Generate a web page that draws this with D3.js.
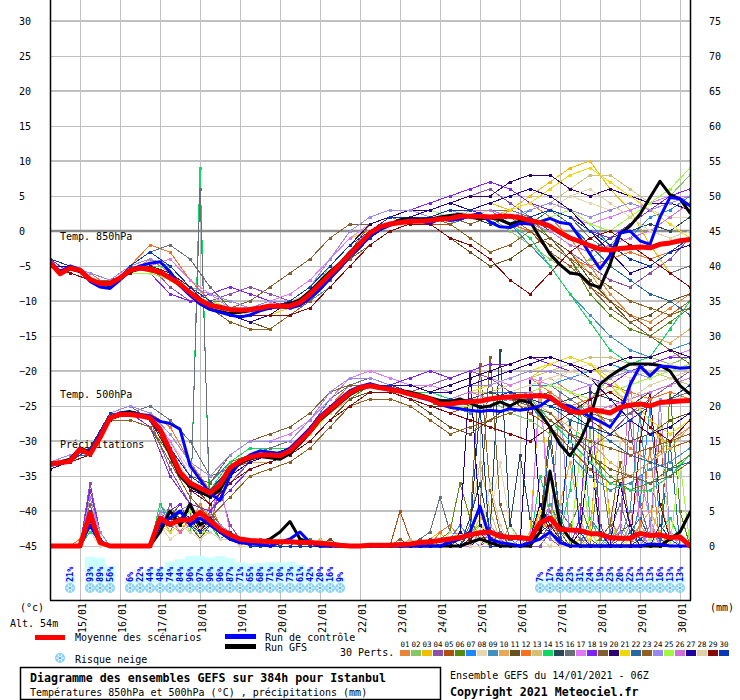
<!DOCTYPE html>
<html>
<head>
<meta charset="utf-8">
<script src="https://cdn.jsdelivr.net/npm/d3@7"></script>
<style>
  body { margin: 0; background: #fff; }
  svg { display: block; }
  text { font-family: "DejaVu Sans Mono", monospace; }
</style>
</head>
<body>
<svg id="chart" width="740" height="700"></svg>
<script>
// run 14/01/2021 06Z, 384h
var runStart = Date.UTC(2021, 0, 14, 6);
var runHours = 384;

// 6-hourly series (65 values)
var meanT850 = [-4.5,-6.1,-5.3,-5.6,-6.9,-7.5,-7.5,-6.7,-5.6,-5.3,
  -5.5,-5.9,-6.7,-7.6,-8.8,-9.9,-10.6,-10.9,-11.2,-11.3,
  -11.2,-11.0,-10.7,-10.7,-10.7,-10.2,-9.0,-7.6,-6.2,-4.8,
  -3.3,-1.8,-0.3,0.6,1.0,1.2,1.4,1.4,1.5,1.7,
  1.8,2.1,2.1,2.1,2.0,2.1,2.1,1.9,1.5,1.2,
  0.7,-0.2,-1.0,-1.5,-2.1,-2.6,-2.7,-2.5,-2.4,-2.3,
  -2.4,-1.9,-1.7,-1.4,-1.2];
var ctrlT850 = [-4.3,-5.8,-5.0,-5.5,-7.2,-8.0,-8.2,-7.0,-5.6,-5.0,
  -4.6,-4.4,-5.8,-7.8,-9.2,-10.4,-11.2,-11.6,-12.0,-12.3,
  -12.0,-11.4,-11.0,-10.8,-11.0,-10.6,-9.6,-8.3,-6.8,-5.2,
  -3.6,-2.2,-0.8,0.2,0.8,1.3,1.6,1.4,1.1,1.8,
  1.5,1.7,2.2,2.5,1.3,0.6,0.5,1.1,1.0,1.3,
  1.8,1.2,1.0,-1.0,-3.3,-5.4,-3.5,-0.3,0.0,-1.4,
  -1.9,2.0,4.8,4.6,3.6];
var gfsT850 = [-4.6,-6.0,-5.4,-5.8,-7.0,-7.6,-7.8,-6.9,-5.8,-5.4,
  -5.6,-6.0,-6.5,-7.8,-9.0,-10.4,-11.2,-11.5,-11.8,-11.6,
  -11.4,-11.0,-10.9,-10.6,-10.4,-9.8,-8.6,-7.2,-5.8,-4.6,
  -3.0,-1.6,-0.4,0.4,1.0,1.6,1.8,1.6,1.7,2.0,
  2.2,2.4,2.0,1.7,1.9,1.6,1.0,1.4,1.4,-1.0,
  -3.3,-4.8,-6.0,-6.2,-7.6,-8.1,-4.8,-0.4,0.7,2.4,
  4.8,7.1,5.2,4.6,2.6];

var meanT500 = [-33.3,-33.1,-32.9,-31.2,-31.9,-29.5,-26.7,-26.2,-26.2,-26.4,
  -26.7,-28.3,-31.4,-34.5,-36.0,-36.7,-37.4,-36.2,-33.8,-32.9,
  -32.3,-32.0,-32.0,-32.1,-31.4,-30.0,-28.6,-26.7,-25.5,-24.3,
  -23.1,-22.4,-22.1,-22.4,-22.6,-22.9,-23.3,-23.6,-24.0,-24.7,
  -24.7,-24.5,-24.4,-24.3,-24.0,-23.8,-23.7,-23.6,-23.6,-23.5,
  -23.7,-24.8,-25.7,-26.0,-25.5,-25.7,-26.0,-25.2,-24.9,-24.7,
  -25.0,-24.5,-24.4,-24.3,-24.2];
var ctrlT500 = [-33.5,-33.2,-32.8,-31.4,-31.6,-29.0,-26.6,-26.0,-26.0,-26.2,
  -26.4,-27.2,-27.5,-28.3,-33.5,-35.5,-37.5,-38.5,-35.0,-33.0,
  -32.0,-31.4,-31.6,-31.8,-31.0,-29.6,-28.2,-26.4,-25.2,-24.0,
  -22.8,-22.2,-21.8,-22.2,-22.4,-22.9,-23.4,-23.8,-24.2,-24.8,
  -25.2,-25.4,-25.6,-25.8,-25.6,-25.8,-25.4,-25.6,-25.4,-25.0,
  -24.0,-24.8,-25.0,-25.8,-26.5,-27.2,-28.0,-26.0,-22.0,-19.3,
  -20.7,-19.3,-19.4,-19.6,-19.5];
var gfsT500 = [-33.2,-33.0,-32.6,-31.0,-31.6,-29.2,-26.8,-26.0,-25.8,-26.2,
  -26.8,-28.6,-32.0,-35.0,-36.5,-37.2,-38.0,-37.0,-34.5,-33.2,
  -32.6,-32.2,-32.4,-32.6,-31.8,-30.4,-28.8,-27.0,-25.8,-24.6,
  -23.4,-22.6,-22.2,-22.2,-22.5,-22.8,-23.0,-23.4,-23.8,-24.2,
  -24.4,-24.0,-24.6,-25.2,-25.0,-24.4,-25.0,-24.2,-24.5,-26.0,
  -28.0,-30.5,-32.1,-30.0,-26.7,-21.9,-20.7,-19.8,-19.0,-19.0,
  -19.0,-19.2,-20.0,-22.1,-23.3];

var meanPrecip = [0,0,0,0,4.6,0.5,0,0,0,0,
  0,4.0,3.1,3.7,3.7,4.8,3.6,2.4,1.6,1.0,
  0.8,0.7,0.6,0.6,0.6,0.5,0.5,0.4,0.3,0.1,
  0,0,0.1,0.1,0.1,0.2,0.3,0.5,0.6,0.8,
  1.0,1.2,1.6,1.9,2.0,1.4,1.2,1.2,1.0,3.3,
  4.0,2.4,2.3,2.2,1.8,1.7,1.2,1.1,1.1,1.8,
  1.5,1.6,1.2,1.3,0];
var ctrlPrecip = [0,0,0,0,3,0.5,0,0,0,0,0,
  3,4,5,3,4,3,2,
  1,0.5,0.3,0.2,0,0.5,1,2,0.5,0,0,0,0,0,0,0,0,
  0,0,0,0,0,0.5,1,2,5.7,1,0.5,0.3,0,0.5,1,2,0.5,0,0,0,0,0,0,0,0,0.3,0.2,0,0,0];
var gfsPrecip = [0,0,0,0,4,0.5,0,0,0,0,0,
  2,5,3,6,3,4,2,
  1,0.5,0.5,0.5,1,2,3.5,1,0.5,0,0,0,0,0,0,0,0,
  0,0,0,0,0,0,0,0.5,1,0.5,0,0,0,0,2,10.7,3,1,0,0,0,0,0,0,0,0,0,1,2,4.8];

// 30 perturbations: temperatures every 12h (33 values), precipitation every 6h (65 values)
var memberColors = ["#e8833a","#88c468","#f0c000","#8c50a8","#b05010","#588a10","#1e88ff","#e8d8b0","#4090c0","#e8a858",
  "#685020","#f87020","#d0c078","#10d860","#284858","#687078","#e078f8","#8020f8","#806030","#300070",
  "#f0d800","#2868a0","#906020","#9888f0","#a0f840","#d070d8","#2000a0","#e0d0a8","#880808","#0838b8"];

var memberT850 = [
  [-4,-5,-7,-8,-6,-4,-6,-9,-11,-12,-12, -11,-11,-10,-7,-3,0,1,2,2,3,2, 1,3,4,2,-1,-5,-9,-12,-13,-11,-9],
  [-5,-5,-7,-7,-5,-5,-7,-9,-10,-11,-12, -12,-11,-9,-5,-2,1,2,1,2,1,3, 2,0,-2,-4,-6,-4,-2,1,3,5,8],
  [-4,-6,-7,-8,-6,-6,-7,-9,-11,-12,-13, -12,-10,-8,-4,-1,0,2,2,1,2,3, 4,3,5,7,9,10,6,3,-2,-6,-8],
  [-5,-5,-6,-7,-5,-5,-8,-10,-10,-9,-8, -9,-10,-9,-6,-3,0,1,2,3,4,5, 6,4,2,-1,-3,-5,-7,-8,-6,-4,-1],
  [-4,-5,-7,-8,-6,-5,-6,-8,-11,-12,-13, -12,-11,-9,-6,-3,1,2,2,1,1,2, 3,2,0,-3,-5,-8,-10,-12,-14,-12,-10],
  [-5,-6,-7,-7,-6,-6,-7,-9,-10,-10,-11, -11,-10,-8,-5,-2,0,1,2,3,2,1, 2,3,2,-1,-4,-9,-12,-14,-15,-13,-11],
  [-4,-5,-7,-8,-6,-5,-6,-9,-11,-12,-12, -11,-10,-9,-7,-4,-1,1,2,2,3,3, 2,1,3,4,3,1,-2,-1,2,3,5],
  [-5,-5,-6,-7,-5,-5,-6,-8,-10,-11,-11, -10,-10,-9,-6,-3,0,1,2,1,2,3, 2,2,1,3,5,4,3,4,3,2,2],
  [-4,-6,-7,-8,-6,-6,-7,-9,-11,-12,-12, -11,-11,-10,-8,-5,-2,0,1,2,1,2, 3,1,-2,-5,-9,-12,-15,-17,-18,-17,-16],
  [-5,-5,-7,-8,-6,-6,-7,-9,-10,-11,-12, -11,-11,-9,-6,-3,0,2,2,2,3,2, 1,2,1,-1,-3,-6,-10,-13,-15,-16,-14],
  [-4,-5,-7,-7,-5,-5,-7,-9,-11,-12,-13, -14,-12,-10,-7,-4,-1,1,2,1,-1,-3, -5,-4,-2,-1,-3,-7,-10,-13,-12,-10,-9],
  [-4,-5,-6,-8,-5,-2,-3,-7,-10,-12,-12, -11,-10,-9,-6,-3,0,1,1,2,2,2, 2,1,0,-2,-4,-5,-4,-3,-4,-3,-2],
  [-5,-5,-7,-8,-6,-5,-6,-8,-10,-11,-11, -10,-10,-9,-7,-4,-1,1,1,2,2,3, 2,2,3,4,6,8,8,6,4,5,6],
  [-4,-6,-7,-8,-6,-5,-5,-8,-9,-11,-12, -11,-10,-8,-5,-2,0,2,2,3,4,3, 2,1,-1,-5,-9,-13,-17,-19,-18,-14,-10],
  [-5,-5,-7,-7,-6,-5,-6,-9,-11,-12,-12, -12,-11,-10,-7,-4,-1,1,2,2,3,2, 1,2,2,0,-2,-3,-1,0,1,0,2],
  [-4,-5,-7,-8,-5,-3,-2,-4,-8,-11,-12, -11,-10,-9,-6,-3,0,1,2,2,1,2, 3,3,2,3,2,-1,-3,-2,-4,-6,-5],
  [-5,-5,-6,-7,-5,-5,-4,-7,-9,-11,-11, -10,-9,-7,-4,-1,1,2,3,3,2,3, 2,3,4,3,2,1,2,3,4,5,5],
  [-4,-6,-7,-8,-6,-6,-9,-10,-9,-8,-9, -10,-11,-9,-6,-3,0,2,3,4,5,6, 7,6,4,3,2,0,-1,1,3,5,6],
  [-5,-5,-7,-8,-6,-5,-6,-8,-10,-11,-10, -8,-6,-4,-1,1,1,2,1,2,2,1, 2,2,1,-1,-4,-8,-11,-13,-15,-17,-19],
  [-4,-5,-7,-8,-6,-5,-6,-9,-11,-12,-12, -11,-10,-8,-5,-2,1,2,3,3,4,5, 5,7,8,8,6,5,6,5,4,4,3],
  [-5,-6,-7,-8,-6,-6,-7,-9,-11,-11,-12, -12,-11,-9,-6,-3,0,1,2,2,3,3, 2,3,4,6,8,9,7,5,3,1,-1],
  [-4,-5,-7,-8,-5,-5,-6,-8,-10,-11,-11, -10,-10,-8,-5,-2,0,2,2,3,2,3, 2,2,1,3,1,-2,-5,-7,-9,-10,-12],
  [-5,-5,-7,-7,-5,-5,-7,-9,-11,-13,-14, -14,-12,-10,-7,-4,-2,0,1,2,1,-1, -3,-2,0,-2,-4,-6,-8,-10,-11,-12,-11],
  [-4,-5,-6,-7,-5,-4,-5,-8,-9,-10,-11, -10,-10,-8,-4,0,2,3,3,2,3,2, 3,2,3,4,3,2,3,4,3,4,5],
  [-5,-6,-7,-8,-6,-6,-7,-9,-10,-11,-12, -11,-10,-9,-6,-3,0,1,2,3,2,2, 3,2,1,2,3,1,0,2,4,6,9],
  [-4,-5,-7,-8,-6,-5,-6,-9,-11,-12,-12, -11,-11,-9,-6,-3,0,1,2,2,2,3, 3,2,1,0,-2,-3,-2,-1,0,2,4],
  [-5,-5,-7,-8,-6,-5,-6,-8,-10,-12,-13, -12,-10,-8,-5,-2,0,2,2,3,4,3, 4,5,6,5,3,0,-3,-6,-5,-3,-2],
  [-4,-5,-7,-8,-6,-5,-6,-9,-11,-11,-12, -11,-10,-9,-6,-3,0,1,2,2,2,3, 2,1,2,3,5,6,4,2,0,-1,0],
  [-5,-6,-7,-8,-6,-5,-6,-8,-11,-12,-12, -12,-12,-11,-8,-5,-2,0,1,1,-1,-2, -4,-7,-9,-6,-3,-1,0,-2,-4,-6,-8],
  [-4,-5,-7,-8,-5,-3,-5,-8,-10,-12,-12, -11,-10,-8,-5,-2,0,2,2,2,3,3, 2,1,2,3,2,0,-2,-4,-5,-3,-1]
];

var memberT500 = [
  [-33,-33,-32,-27,-26,-27,-31,-36,-38,-34,-32, -32,-31,-28,-25,-23,-22,-23,-23,-24,-25,-24, -24,-23,-22,-21,-23,-25,-28,-31,-33,-30,-28],
  [-33,-33,-31,-26,-26,-26,-30,-35,-37,-33,-32, -31,-31,-29,-26,-23,-22,-22,-23,-24,-24,-25, -24,-26,-27,-29,-27,-24,-21,-19,-18,-19,-18],
  [-34,-33,-32,-27,-26,-27,-32,-37,-38,-35,-33, -32,-31,-28,-25,-23,-22,-23,-24,-24,-25,-24, -23,-22,-21,-19,-18,-19,-22,-25,-28,-31,-30],
  [-33,-32,-31,-26,-25,-27,-34,-39,-40,-36,-33, -32,-32,-29,-26,-23,-22,-22,-23,-22,-21,-20, -21,-23,-25,-27,-29,-31,-29,-26,-24,-22,-20],
  [-33,-33,-32,-27,-26,-27,-31,-36,-38,-34,-33, -32,-31,-28,-25,-23,-22,-23,-24,-25,-26,-25, -24,-24,-26,-28,-31,-34,-36,-35,-33,-31,-30],
  [-34,-33,-32,-27,-27,-28,-32,-36,-37,-33,-32, -32,-32,-29,-26,-24,-22,-23,-24,-25,-24,-23, -24,-25,-24,-26,-29,-32,-35,-37,-36,-34,-32],
  [-33,-33,-31,-26,-26,-27,-31,-35,-36,-33,-31, -31,-31,-28,-24,-22,-21,-22,-23,-24,-24,-24, -23,-23,-22,-22,-21,-20,-19,-20,-21,-20,-19],
  [-33,-32,-32,-27,-26,-26,-30,-34,-37,-34,-32, -32,-31,-29,-26,-23,-22,-22,-23,-23,-24,-24, -25,-24,-23,-22,-20,-19,-20,-21,-20,-19,-20],
  [-34,-33,-32,-27,-26,-27,-31,-36,-38,-35,-33, -32,-31,-28,-25,-23,-22,-22,-23,-24,-25,-26, -25,-24,-25,-28,-32,-35,-37,-36,-34,-33,-31],
  [-33,-33,-32,-27,-26,-27,-32,-37,-38,-35,-33, -33,-32,-29,-26,-24,-23,-23,-24,-24,-25,-24, -24,-23,-24,-26,-28,-30,-33,-35,-33,-31,-28],
  [-33,-33,-32,-27,-26,-27,-31,-36,-39,-36,-34, -33,-32,-30,-27,-24,-23,-23,-24,-26,-28,-29, -27,-25,-24,-23,-25,-27,-29,-30,-29,-27,-26],
  [-33,-32,-31,-26,-25,-26,-28,-33,-37,-35,-33, -32,-31,-28,-25,-22,-22,-22,-23,-23,-24,-24, -23,-22,-21,-23,-25,-24,-22,-23,-24,-23,-24],
  [-34,-33,-32,-27,-26,-27,-31,-36,-37,-34,-32, -32,-31,-28,-25,-23,-22,-23,-23,-24,-24,-23, -23,-22,-21,-20,-19,-18,-18,-19,-20,-21,-22],
  [-33,-33,-31,-27,-26,-27,-31,-35,-37,-33,-31, -31,-31,-28,-25,-23,-22,-22,-23,-23,-24,-24, -24,-23,-24,-27,-30,-33,-36,-37,-37,-35,-32],
  [-33,-33,-32,-27,-26,-27,-31,-36,-38,-34,-32, -32,-31,-28,-25,-23,-22,-23,-24,-25,-25,-24, -23,-24,-24,-25,-24,-23,-24,-25,-23,-22,-21],
  [-34,-33,-32,-27,-26,-25,-27,-30,-35,-34,-32, -31,-30,-27,-24,-22,-21,-22,-23,-24,-25,-25, -24,-23,-23,-22,-24,-26,-27,-26,-25,-24,-23],
  [-33,-32,-31,-26,-25,-26,-30,-35,-36,-32,-30, -30,-29,-27,-24,-21,-20,-21,-22,-22,-23,-22, -21,-22,-21,-22,-23,-22,-21,-20,-19,-18,-17],
  [-33,-33,-32,-27,-26,-28,-35,-39,-40,-37,-34, -33,-32,-29,-26,-23,-22,-22,-21,-20,-21,-20, -19,-19,-18,-19,-20,-21,-22,-20,-19,-18,-18],
  [-33,-33,-32,-27,-26,-27,-31,-35,-36,-32,-30, -29,-28,-26,-23,-22,-22,-22,-23,-24,-24,-25, -24,-24,-25,-26,-29,-32,-34,-35,-36,-35,-33],
  [-34,-33,-32,-27,-26,-27,-31,-36,-38,-34,-32, -32,-31,-28,-25,-23,-22,-22,-22,-23,-22,-21, -20,-19,-18,-18,-19,-20,-19,-18,-18,-17,-18],
  [-33,-33,-32,-27,-26,-27,-32,-37,-38,-35,-33, -32,-31,-28,-25,-23,-22,-23,-23,-24,-24,-23, -22,-21,-20,-19,-18,-19,-21,-24,-27,-29,-27],
  [-33,-32,-32,-27,-26,-27,-31,-36,-37,-34,-32, -32,-31,-28,-25,-23,-22,-22,-23,-24,-25,-24, -24,-23,-24,-25,-27,-28,-30,-32,-33,-34,-33],
  [-34,-33,-32,-27,-27,-28,-33,-38,-41,-38,-35, -34,-33,-31,-28,-25,-24,-24,-25,-27,-29,-28, -27,-26,-25,-27,-29,-30,-31,-32,-31,-30,-29],
  [-33,-32,-31,-26,-25,-26,-29,-33,-35,-32,-30, -30,-30,-27,-23,-21,-21,-22,-22,-23,-23,-22, -22,-21,-20,-20,-21,-22,-21,-20,-21,-20,-19],
  [-33,-33,-32,-27,-26,-27,-31,-36,-37,-34,-32, -32,-31,-29,-26,-23,-22,-23,-23,-24,-25,-25, -24,-24,-23,-22,-23,-24,-23,-22,-21,-20,-19],
  [-33,-33,-32,-27,-26,-27,-31,-36,-38,-34,-32, -32,-31,-28,-25,-23,-22,-23,-23,-24,-24,-23, -24,-24,-23,-24,-25,-26,-25,-24,-23,-22,-21],
  [-34,-33,-32,-27,-26,-27,-32,-37,-38,-35,-33, -32,-31,-28,-25,-23,-22,-22,-22,-23,-23,-22, -21,-20,-19,-18,-19,-21,-24,-27,-29,-28,-26],
  [-33,-33,-32,-27,-26,-27,-31,-36,-37,-34,-32, -32,-31,-28,-25,-23,-22,-23,-24,-24,-25,-24, -24,-23,-22,-21,-20,-21,-23,-24,-22,-21,-20],
  [-33,-33,-32,-27,-26,-27,-32,-37,-39,-36,-34, -33,-32,-30,-27,-25,-23,-23,-24,-25,-26,-27, -28,-29,-30,-28,-26,-24,-23,-25,-28,-30,-27],
  [-33,-33,-31,-26,-26,-27,-31,-35,-37,-34,-32, -32,-31,-28,-25,-23,-22,-22,-23,-24,-24,-24, -24,-23,-24,-25,-26,-28,-29,-27,-25,-24,-22]
];

var memberPrecip = [
  [0,0,0,0,4,1,0,0,0,0,0, 3,5,4,3,6,4,2, 1,1,0,0,1,0,0,0,0,0,0,0,0,0,0,0,0, 0,0,0,0,0,1,0,2,3,1,0,0,0,0,6,3,1,0,0,2,18,4,1,0,0,3,1,0,0,0],
  [0,0,0,0,3,0,0,0,0,0,0, 5,2,3,4,1,3,2, 2,1,1,0,0,0,1,0,0,0,0,0,0,0,0,0,0, 0,0,1,0,1,0,2,1,0,0,0,3,1,0,2,5,2,1,0,17,0,1,3,1,0,0,0,2,1,0],
  [0,0,0,0,5,1,0,0,0,0,0, 4,3,5,2,1,4,3, 1,0,0,1,0,0,0,0,1,0,0,0,0,0,0,0,0, 0,0,0,1,2,0,0,1,4,3,1,0,0,2,22,6,2,0,1,0,0,0,0,0,3,5,2,0,0,0],
  [0,0,0,0,9,2,0,0,0,0,0, 2,6,3,5,2,3,8, 3,1,0,0,0,1,0,0,0,0,0,0,0,0,0,0,0, 0,0,0,0,0,0,1,0,0,2,0,0,1,0,0,2,5,3,1,0,0,0,2,18,6,1,0,0,0,0],
  [0,0,0,0,4,0,0,0,0,0,0, 4,4,3,2,1,3,2, 2,1,1,1,0,0,0,0,0,0,0,0,0,0,0,0,0, 5,1,0,0,0,1,0,0,0,0,2,1,0,0,3,4,1,0,0,0,1,0,0,0,0,2,16,1,0,0],
  [0,0,0,0,5,1,0,0,0,0,0, 5,3,4,3,2,4,1, 1,0,0,0,0,0,0,0,1,0,0,0,0,0,0,0,0, 0,0,0,0,1,2,9,4,1,0,0,0,1,0,2,3,1,3,6,2,0,1,0,0,1,0,0,22,5,0],
  [0,0,0,0,3,1,0,0,0,0,0, 4,2,5,4,3,2,1, 2,1,1,0,0,0,0,1,0,0,0,0,0,0,0,0,0, 0,1,0,0,0,1,3,1,0,0,0,0,0,1,2,1,0,0,0,4,2,0,0,0,6,20,3,1,0,0],
  [0,0,0,0,2,0,0,0,0,0,0, 3,1,2,3,1,2,1, 1,1,0,1,0,1,0,0,0,0,0,0,0,0,0,0,0, 0,0,0,0,0,0,0,2,1,4,12,3,0,0,1,0,2,0,0,0,1,0,15,2,0,0,1,0,0,0],
  [0,0,0,0,6,1,0,0,0,0,0, 6,3,4,5,2,4,2, 1,0,0,0,1,0,0,1,0,0,0,0,0,0,0,0,0, 0,0,0,0,0,1,1,2,3,2,1,0,0,0,2,6,3,1,0,0,0,2,1,5,19,3,0,0,1,0],
  [0,0,0,0,4,0,0,0,0,0,0, 3,5,3,4,2,5,3, 2,1,0,0,0,0,1,0,0,0,0,0,0,0,0,0,0, 0,0,1,0,0,0,0,1,0,0,0,0,0,0,1,2,6,12,4,0,0,0,0,1,3,1,0,2,0,0],
  [0,0,0,0,5,1,0,0,0,0,0, 4,4,6,3,1,3,2, 1,1,0,0,0,0,0,0,0,0,1,0,0,0,0,0,0, 0,0,0,1,0,0,0,0,1,2,0,0,0,1,3,17,4,1,0,0,1,0,2,3,1,0,0,0,0,0],
  [0,0,0,1,3,0,0,0,0,0,0, 2,3,2,4,2,6,3, 2,0,1,0,0,0,0,0,0,0,0,0,0,0,0,0,0, 0,0,0,0,2,3,1,0,0,0,0,0,0,0,4,2,1,0,0,0,0,0,0,0,3,14,0,1,0,0],
  [0,0,0,0,4,0,0,0,0,0,0, 3,2,3,2,1,2,1, 1,0,0,0,0,0,1,0,0,1,0,0,0,0,0,0,0, 0,1,0,0,0,0,0,3,12,5,1,0,0,0,2,4,1,0,0,0,0,0,0,0,0,1,6,2,0,0],
  [0,0,0,0,2,1,0,0,0,0,0, 6,4,3,2,54,3,1, 1,1,0,0,0,0,0,0,0,0,0,0,0,0,0,0,0, 0,0,0,0,0,0,1,2,3,2,1,0,0,0,10,5,2,8,20,4,1,0,0,0,1,0,2,4,1,0],
  [0,0,0,0,5,1,0,0,0,0,0, 3,3,4,5,2,3,2, 2,1,0,0,1,0,0,0,0,0,0,0,0,0,0,0,0, 0,0,0,0,0,0,0,4,9,2,28,3,13,4,2,1,0,0,0,1,0,0,0,0,0,0,0,0,0,0],
  [0,0,0,0,3,0,0,0,0,0,0, 2,4,3,3,51,5,2, 1,0,0,1,0,0,0,0,0,0,0,0,0,0,0,0,0, 0,0,1,2,7,2,1,0,0,0,0,0,0,0,3,5,1,0,0,0,12,2,6,2,0,0,0,0,0,0],
  [0,0,0,0,6,2,0,0,0,0,0, 5,3,4,4,3,4,9, 2,1,1,0,0,0,0,0,0,0,0,0,0,0,0,0,0, 0,0,0,0,1,0,0,0,1,3,1,0,0,0,24,1,0,0,0,0,0,1,0,3,10,4,0,0,1,0],
  [0,0,0,0,8,2,0,0,0,0,0, 4,5,6,3,2,3,2, 1,0,0,0,0,0,0,0,0,0,0,0,0,0,0,0,0, 0,0,0,0,0,0,0,0,0,1,2,1,0,0,1,0,0,0,4,23,3,0,0,0,1,2,1,0,0,0],
  [0,0,0,0,4,1,0,0,0,0,0, 3,5,4,4,3,4,2, 1,1,0,0,1,0,1,0,0,0,0,0,0,0,0,0,0, 0,0,1,0,0,0,1,2,5,27,6,1,0,0,1,3,2,0,0,0,0,0,1,0,0,0,0,0,0,0],
  [0,0,0,0,5,1,0,0,0,0,0, 5,4,3,6,2,4,3, 2,1,0,0,0,0,0,0,0,0,0,0,0,0,0,0,0, 0,0,0,0,0,0,0,0,1,0,0,0,0,1,6,3,1,0,2,14,2,0,0,0,0,0,0,0,0,0],
  [0,0,0,0,3,0,0,0,0,0,0, 4,2,3,3,2,3,2, 1,0,0,0,0,0,0,0,0,0,0,0,0,0,0,0,0, 0,0,0,0,1,1,2,1,3,2,0,0,0,0,5,2,0,0,0,1,19,3,1,0,0,0,2,1,0,0],
  [0,0,0,0,4,0,0,0,0,0,0, 4,3,5,4,2,3,2, 2,1,1,0,0,0,0,0,0,0,0,0,0,0,0,0,0, 0,0,0,0,0,0,2,1,0,0,0,1,0,0,2,15,4,1,0,0,0,0,0,2,4,1,0,15,0,0],
  [0,0,0,0,6,1,0,0,0,0,0, 3,4,4,3,2,5,3, 2,1,0,0,0,0,0,1,0,0,0,0,0,0,0,0,0, 1,0,0,0,0,0,0,3,26,8,2,0,0,1,2,1,0,0,0,0,1,3,12,3,0,0,0,0,0,0],
  [0,0,0,0,7,2,0,0,0,0,0, 5,4,5,6,3,4,3, 2,1,0,0,0,0,0,0,0,0,0,0,0,0,0,0,0, 0,0,0,0,0,0,0,1,0,0,0,0,1,0,2,1,22,0,0,0,0,1,2,1,0,2,21,2,0,0],
  [0,0,0,0,4,1,0,0,0,0,0, 4,3,3,5,2,2,1, 1,0,0,0,0,0,0,0,0,0,0,0,0,0,0,0,0, 0,0,0,0,0,0,0,2,1,0,0,0,0,0,3,2,1,0,13,2,0,0,0,0,0,1,0,0,12,0],
  [0,0,0,0,5,0,0,0,0,0,0, 3,4,2,3,2,3,2, 2,1,1,0,0,0,0,0,0,0,0,0,0,0,0,0,0, 0,0,0,0,0,0,0,0,2,1,0,0,0,0,1,2,0,0,0,0,0,0,3,24,2,0,0,1,0,0],
  [0,0,0,0,4,1,0,0,0,0,0, 4,3,5,4,2,4,2, 1,0,0,0,0,0,0,0,0,0,0,0,0,0,0,0,0, 0,0,0,0,0,0,2,25,3,1,0,0,0,24,6,2,1,0,0,0,0,0,9,3,0,0,0,0,0,0],
  [0,0,0,0,3,0,0,0,0,0,0, 2,3,3,2,1,2,1, 1,0,0,0,0,0,0,0,0,0,0,0,0,0,0,0,0, 0,0,0,0,0,2,1,0,0,9,3,0,0,0,1,0,0,0,0,0,0,0,0,0,1,0,18,0,0,0],
  [0,0,0,0,4,1,0,0,0,0,0, 3,4,3,4,2,3,2, 1,1,0,0,0,0,0,0,0,0,0,0,0,0,0,0,0, 0,0,0,0,0,0,0,1,2,0,0,0,0,0,2,3,1,0,0,0,0,0,0,0,15,22,6,1,0,0],
  [0,0,0,0,5,1,0,0,0,0,0, 4,3,4,3,2,3,2, 2,1,0,0,0,0,0,0,0,0,0,0,0,0,0,0,0, 0,0,0,0,0,1,0,2,20,0,0,0,0,0,3,2,1,18,2,0,0,0,0,0,1,0,3,1,0,0]
];

// snow risk (% of members), indexed on the 6h steps
var snowStep = [2, 4,5,6, 8,9,10,11,12,13,14,15,16,17,18,19,20,21,22,23,24,25,26,27,28,29,
  49,50,51,52,53,54,55,56,57,58,59,60,61,62,63];
var snowPct = [21, 93,89,56, 6,22,44,48,74,84,96,97,90,96,87,71,65,68,71,70,73,61,42,20,16,9,
  7,17,28,23,31,24,19,23,20,22,13,13,16,13,13];

var tempTicks = d3.range(-45, 31, 5);
var precipTicks = d3.range(0, 76, 5);

var svg = d3.select("#chart");
var HOUR = 3600e3;
var x = d3.scaleUtc()
  .domain([new Date(runStart), new Date(runStart + runHours * HOUR)])
  .range([50, 690]);
var yT = d3.scaleLinear().domain([-45, 30]).range([546, 21]);
var yP = d3.scaleLinear().domain([0, 75]).range([546, 21]);
var xAt = function(step) { return function(d, i) { return x(new Date(runStart + i * step * HOUR)); }; };

svg.append("defs").append("clipPath").attr("id", "plotclip")
  .append("rect").attr("x", 50).attr("y", 0).attr("width", 640).attr("height", 600);

// grid
var days = d3.utcDay.range(new Date(runStart), new Date(runStart + runHours * HOUR + 1));
var grid = svg.append("g");
grid.selectAll(".vg").data(days).join("line")
  .attr("x1", function(d) { return Math.round(x(d)) + 0.5; })
  .attr("x2", function(d) { return Math.round(x(d)) + 0.5; })
  .attr("y1", 0).attr("y2", 600)
  .attr("stroke", "#c0c0c0").attr("stroke-width", 1);
grid.selectAll(".hg").data(tempTicks).join("line")
  .attr("x1", 50).attr("x2", 690)
  .attr("y1", function(d) { return d % 10 === 0 ? yT(d) : yT(d) + 0.5; })
  .attr("y2", function(d) { return d % 10 === 0 ? yT(d) : yT(d) + 0.5; })
  .attr("stroke", function(d) { return d === 0 ? "#8c8c8c" : "#c0c0c0"; })
  .attr("stroke-width", function(d) { return d === 0 ? 2.5 : (d % 10 === 0 ? 2 : 1); });

// snow risk row
var snow = svg.append("g");
var snowH = d3.scaleLinear().domain([0, 100]).range([3, 28]);
var snowX = function(i) { return x(new Date(runStart + snowStep[i] * 6 * HOUR)); };
snow.selectAll("rect").data(snowPct).join("rect")
  .attr("x", function(d, i) { return snowX(i) - 5; })
  .attr("y", function(d) { return 583 - snowH(d); })
  .attr("width", 10)
  .attr("height", function(d) { return snowH(d); })
  .attr("fill", "#ccffff");

function flake(g, cx, cy) {
  var f = g.append("g").attr("transform", "translate(" + cx + "," + cy + ")");
  f.append("circle").attr("r", 5).attr("fill", "#86d2f4");
  [0, 60, 120].forEach(function(a) {
    f.append("line").attr("x1", -4).attr("x2", 4).attr("y1", 0).attr("y2", 0)
      .attr("transform", "rotate(" + a + ")")
      .attr("stroke", "#ffffff").attr("stroke-width", 1);
  });
  f.append("circle").attr("r", 1).attr("fill", "#3c8ee0");
}
snowPct.forEach(function(d, i) { flake(snow, snowX(i), 588); });
snow.selectAll("text").data(snowPct).join("text")
  .attr("transform", function(d, i) { return "translate(" + (snowX(i) + 2.5) + ",582) rotate(-90)"; })
  .attr("font-size", 8.5)
  .attr("font-weight", "bold")
  .attr("fill", "#0000ff")
  .text(function(d) { return d + "%"; });

// labels inside the plot (under the lines)
var inner = svg.append("g").attr("font-size", 10).attr("fill", "#000");
inner.append("text").attr("x", 60).attr("y", 240).text("Temp. 850hPa");
inner.append("text").attr("x", 60).attr("y", 397.5).text("Temp. 500hPa");
inner.append("text").attr("x", 60).attr("y", 447.5).text("Précipitations");

// series
var plot = svg.append("g").attr("clip-path", "url(#plotclip)");

function drawSeries(values, step, yScale, color, width, marks) {
  var line = d3.line().x(xAt(step)).y(function(d) { return yScale(d); });
  var p = plot.append("path").datum(values)
    .attr("d", line)
    .attr("fill", "none")
    .attr("stroke", color)
    .attr("stroke-width", width)
    .attr("stroke-linejoin", "round")
    .attr("stroke-linecap", "round");
  if (marks) {
    p.attr("shape-rendering", "crispEdges");
    plot.append("g").attr("shape-rendering", "crispEdges")
      .selectAll("rect").data(values).join("rect")
      .attr("x", function(d, i) { return Math.round(xAt(step)(d, i)) - 1; })
      .attr("y", function(d) { return Math.round(yScale(d)) - 1; })
      .attr("width", 3).attr("height", 3)
      .attr("fill", color);
  }
}

for (var m = 0; m < memberColors.length; m++) {
  drawSeries(memberPrecip[m], 6, yP, memberColors[m], 1, true);
}
for (var m = 0; m < memberColors.length; m++) {
  drawSeries(memberT500[m], 12, yT, memberColors[m], 1, true);
  drawSeries(memberT850[m], 12, yT, memberColors[m], 1, true);
}
[[gfsPrecip, yP], [gfsT500, yT], [gfsT850, yT]].forEach(function(s) { drawSeries(s[0], 6, s[1], "#000000", 3, false); });
[[ctrlPrecip, yP], [ctrlT500, yT], [ctrlT850, yT]].forEach(function(s) { drawSeries(s[0], 6, s[1], "#0000ff", 3, false); });
[[meanPrecip, yP], [meanT500, yT], [meanT850, yT]].forEach(function(s) { drawSeries(s[0], 6, s[1], "#ff0000", 5, false); });

// frame
var frame = svg.append("g").attr("stroke", "#000").attr("stroke-width", 1.5);
frame.append("line").attr("x1", 50.5).attr("x2", 50.5).attr("y1", 0).attr("y2", 600.5);
frame.append("line").attr("x1", 690.5).attr("x2", 690.5).attr("y1", 0).attr("y2", 600.5);
frame.append("line").attr("x1", 50).attr("x2", 691).attr("y1", 600.5).attr("y2", 600.5);

// axes
var font = "'DejaVu Sans Mono', monospace";
var left = svg.append("g").attr("transform", "translate(50,0)")
  .call(d3.axisLeft(yT).tickValues(tempTicks).tickSize(0));
left.select(".domain").remove();
left.attr("font-family", font).attr("font-size", 10);
left.selectAll("text").attr("text-anchor", "start").attr("x", -31).attr("dy", "0.6em").attr("y", -2.5);

var right = svg.append("g").attr("transform", "translate(690,0)")
  .call(d3.axisRight(yP).tickValues(precipTicks).tickSize(0));
right.select(".domain").remove();
right.attr("font-family", font).attr("font-size", 10);
right.selectAll("text").attr("text-anchor", "start").attr("x", 19).attr("dy", "0.6em").attr("y", -2.5);

var bottom = svg.append("g").attr("transform", "translate(0,600)")
  .call(d3.axisBottom(x).tickValues(days).tickFormat(d3.utcFormat("%d/%m")).tickSize(0));
bottom.select(".domain").remove();
bottom.attr("font-family", font).attr("font-size", 10);
bottom.selectAll("text")
  .attr("transform", "rotate(-90)")
  .attr("text-anchor", "end")
  .attr("x", -3).attr("y", 5.5).attr("dy", 0);

// units and legend
var legend = svg.append("g").attr("font-size", 10).attr("fill", "#000");
legend.append("text").attr("x", 20).attr("y", 611).text("(°c)");
legend.append("text").attr("x", 10).attr("y", 626.5).text("Alt. 54m");
legend.append("text").attr("x", 710).attr("y", 611).text("(mm)");

legend.append("rect").attr("x", 35).attr("y", 635).attr("width", 30).attr("height", 5).attr("fill", "#ff0000");
legend.append("text").attr("x", 75).attr("y", 641).text("Moyenne des scénarios");
legend.append("rect").attr("x", 225).attr("y", 634).attr("width", 31).attr("height", 5).attr("fill", "#0000ff");
legend.append("text").attr("x", 265).attr("y", 640.5).text("Run de contrôle");
legend.append("rect").attr("x", 225).attr("y", 644).attr("width", 31).attr("height", 5).attr("fill", "#000000");
legend.append("text").attr("x", 265).attr("y", 650.5).text("Run GFS");
legend.append("text").attr("x", 340).attr("y", 656).text("30 Perts.");
flake(legend, 60, 658);
legend.append("text").attr("x", 75).attr("y", 662.5).text("Risque neige");

var sw = svg.append("g");
sw.selectAll("rect").data(memberColors).join("rect")
  .attr("x", function(d, i) { return 400 + 11 * i; })
  .attr("y", 650).attr("width", 10).attr("height", 6)
  .attr("fill", function(d) { return d; });
sw.selectAll("text").data(memberColors).join("text")
  .attr("x", function(d, i) { return 405 + 11 * i; })
  .attr("y", 647)
  .attr("text-anchor", "middle")
  .attr("font-size", 7.5)
  .text(function(d, i) { return d3.format("02d")(i + 1); });

// title block
svg.append("rect").attr("x", 20.5).attr("y", 667.5).attr("width", 420).attr("height", 32)
  .attr("fill", "none").attr("stroke", "#000").attr("stroke-width", 1.5);
svg.append("text").attr("x", 30).attr("y", 681.5).attr("font-size", 11.6).attr("font-weight", "bold")
  .text("Diagramme des ensembles GEFS sur 384h pour Istanbul");
svg.append("text").attr("x", 30).attr("y", 695.5).attr("font-size", 10)
  .text("Températures 850hPa et 500hPa (°C) , précipitations (mm)");
svg.append("text").attr("x", 450).attr("y", 678.5).attr("font-size", 10)
  .text("Ensemble GEFS du 14/01/2021 - 06Z");
svg.append("text").attr("x", 450).attr("y", 696).attr("font-size", 11.6).attr("font-weight", "bold")
  .text("Copyright 2021 Meteociel.fr");
</script>
</body>
</html>
